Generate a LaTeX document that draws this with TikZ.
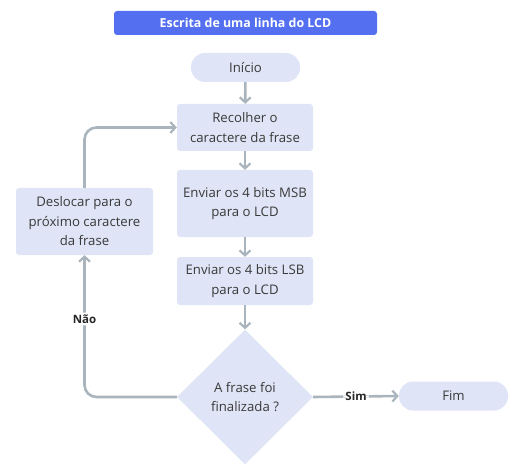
\documentclass[tikz,border=0pt]{standalone}
\usepackage{fontspec}
\setmainfont{Open Sans}
\usetikzlibrary{shapes.geometric,arrows.meta}
\definecolor{boxfill}{HTML}{DFE4F6}
\definecolor{titlefill}{HTML}{5470F0}
\definecolor{linegray}{HTML}{A9B4BC}
\definecolor{txt}{HTML}{3A3A3A}
\tikzset{
  base/.style={fill=boxfill, text=txt, font=\fontsize{13.2}{19.5}\selectfont, align=center, inner sep=0pt},
  procbox/.style={base, rectangle, rounded corners=3pt, minimum width=136pt},
  pill/.style={base, rectangle, rounded corners=14pt, minimum width=109pt, minimum height=29pt},
  decision/.style={base, diamond, minimum width=136pt, minimum height=135pt},
  conn/.style={draw=linegray, line width=2.6pt, -{Straight Barb[length=5pt,width=11pt,line width=2.2pt]}, rounded corners=12pt},
  lbl/.style={fill=white, text=black!85, font=\fontsize{11.5}{13}\selectfont\bfseries, inner sep=2pt}
}
\begin{document}
\begin{tikzpicture}[x=1pt,y=-1pt]
\useasboundingbox (0,0) rectangle (521,470);
\node[fill=titlefill, text=white, rounded corners=3pt, minimum width=263pt, minimum height=24pt, inner sep=0pt, font=\fontsize{12.4}{14}\selectfont\bfseries] (title) at (245.5,23) {Escrita de uma linha do LCD};
\node[pill] (inicio) at (245.5,67.5) {Início};
\node[procbox, minimum height=47pt] (recolher) at (245,127.5) {Recolher o\\caractere da frase};
\node[procbox, minimum height=67pt] (msb) at (245,203.5) {Enviar os 4 bits MSB\\para o LCD};
\node[procbox, minimum height=48pt] (lsb) at (245,281) {Enviar os 4 bits LSB\\para o LCD};
\node[decision] (dec) at (245,397) {A frase foi\\finalizada ?};
\node[pill] (fim) at (453.5,396) {Fim};
\node[procbox, minimum width=137pt, minimum height=67pt] (desl) at (84.5,221.5) {Deslocar para o\\próximo caractere\\da frase};
\draw[conn] (inicio) -- (recolher);
\draw[conn] (recolher) -- (msb);
\draw[conn] (msb) -- (lsb);
\draw[conn] (lsb) -- (dec);
\draw[conn] (dec.east) -- (fim.west) node[lbl, pos=0.5] (sim) {Sim};
\draw[conn] (dec.west) -| (desl.south) node[lbl, pos=0.775] (nao) {Não};
\draw[conn] (desl.north) |- (recolher.west);
\end{tikzpicture}
\end{document}
